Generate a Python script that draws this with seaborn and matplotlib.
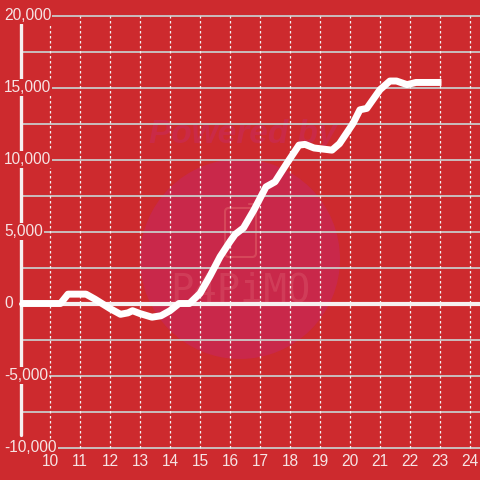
import numpy as np
import pandas as pd
import matplotlib
matplotlib.use("Agg")
import matplotlib.pyplot as plt
from matplotlib.patches import Circle, FancyBboxPatch
import seaborn as sns

# hours of the day and cumulative value
hours = [9.0, 10.0, 10.35, 10.6, 11.2, 11.5, 12.0, 12.35, 12.6, 12.75, 13.0, 13.4, 13.7,
         14.0, 14.3, 14.65, 15.0, 15.33, 15.67, 16.0, 16.17, 16.45, 16.8, 17.2,
         17.5, 17.9, 18.3, 18.5, 18.8, 19.4, 19.65, 20.1, 20.33, 20.56, 21.0,
         21.33, 21.55, 21.9, 22.2, 23.05]
values = [0, 0, 0, 650, 650, 300, -350, -750, -650, -500, -700, -950, -850,
          -500, 0, 0, 700, 1900, 3250, 4300, 4800, 5250, 6500, 8100,
          8450, 9750, 11000, 11050, 10800, 10650, 11100, 12500, 13450, 13550, 14850,
          15450, 15450, 15200, 15350, 15350]
x_ticks = list(range(10, 25))
y_ticks = [-10000, -5000, 0, 5000, 10000, 15000, 20000]
y_grid = list(range(-10000, 20001, 2500))

bg = "#cd2a2e"
txt = "#f6e4e4"

sns.set_style("white")
plt.rcParams["font.family"] = ["Liberation Sans", "DejaVu Sans"]

fig = plt.figure(figsize=(4.8, 4.8), dpi=100, facecolor=bg)
ax = fig.add_axes([0, 0, 1, 1])
ax.set_facecolor(bg)
ax.set_xlim(10 - 50 / 30, 10 + 430 / 30)
ax.set_ylim(-176.5 * 5000 / 72, 303.5 * 5000 / 72)
ax.axis("off")

spine_x = 10 - 29 / 30

# watermark (pixel coords, origin bottom left)
ax.add_patch(Circle((240, 221), 100, transform=None, facecolor="#c9284a",
                    edgecolor="none", zorder=0.5))
ax.text(243, 345, "Powered by", transform=None, ha="center", va="center",
        fontsize=24, fontweight="bold", style="italic", color="#ca2a47",
        zorder=0.6)
ax.add_patch(FancyBboxPatch((225, 223), 31, 49, boxstyle="round,pad=0,rounding_size=4",
                            transform=None, facecolor="none", edgecolor="#d9505f",
                            lw=1.5, alpha=0.8, zorder=0.6))
ax.plot([249, 256], [276, 276], transform=None, color="#d9505f", lw=1.5,
        alpha=0.8, zorder=0.6)
ax.text(240, 190, "P4PiMO", transform=None, ha="center", va="center",
        fontsize=28, family="DejaVu Sans Mono", color="#d9566a", alpha=0.45,
        zorder=0.6)

# grid
for y in y_grid:
    ax.plot([spine_x, ax.get_xlim()[1]], [y, y], color="#c9c9c9", lw=1.3, zorder=1)
for x in x_ticks:
    ax.plot([x, x], [-10000, 20000], color="#f2f2f2", lw=0.9, ls=(0, (2, 2)), zorder=1)

# zero line and left spine
ax.plot([spine_x, ax.get_xlim()[1]], [0, 0], color="#f6f0f0", lw=3, zorder=2)
ax.plot([spine_x, spine_x], [-9100, 19400], color="#f6f0f0", lw=2.4, zorder=2)

df = pd.DataFrame({"hour": hours, "value": values})
sns.lineplot(data=df, x="hour", y="value", ax=ax, color="white", lw=5,
             solid_joinstyle="round", solid_capstyle="butt", zorder=3)

for y in y_ticks:
    ax.text(10 - 46 / 30, y, f"{y:,}", ha="left", va="center", fontsize=11.2,
            color=txt, zorder=4,
            bbox=dict(facecolor=bg, edgecolor="none", pad=0.8))
for x in x_ticks:
    ax.text(x, -10000 - 14 * 5000 / 72, str(x), ha="center", va="center",
            fontsize=11.2, color=txt, zorder=4)

fig.savefig("out.png", dpi=100, facecolor=bg)
